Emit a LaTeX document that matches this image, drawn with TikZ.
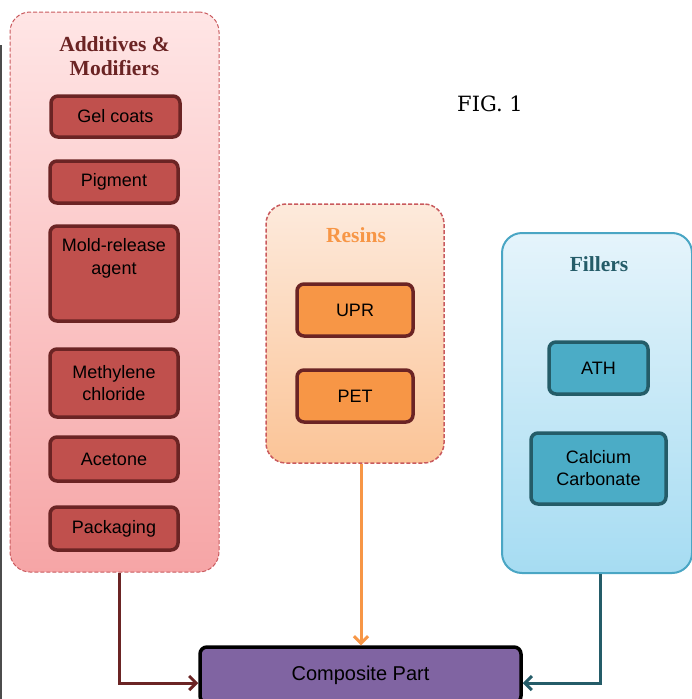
\documentclass[tikz,border=0pt]{standalone}
\usepackage{fontspec}
\setmainfont{Liberation Serif}
\setsansfont{Liberation Sans}
\newfontfamily\figfont{DejaVu Serif}
\usepackage{tikz}
\usetikzlibrary{arrows.meta}

\definecolor{addbox}{HTML}{C0504D}
\definecolor{addline}{HTML}{6B2424}
\definecolor{resbox}{HTML}{F79646}
\definecolor{filbox}{HTML}{4BACC6}
\definecolor{filline}{HTML}{245C68}
\definecolor{dashred}{HTML}{C95A5E}
\definecolor{partbox}{HTML}{8064A2}

\begin{document}
\begin{tikzpicture}[x=1pt,y=-1pt,
  group/.style={rounded corners=20pt,minimum width=#1},
  item/.style={draw=addline,line width=3.5pt,rounded corners=7pt,font=\sffamily\fontsize{18}{22}\selectfont,align=center},
  title/.style={font=\bfseries\fontsize{21.5}{24}\selectfont,align=center},
  feed/.style={line width=3pt,-{Straight Barb[length=7pt,width=14pt]}}]
\useasboundingbox (0,0) rectangle (692,699);
\draw[line width=2pt,black!70] (1,45) -- (1,699);

% containers
\node[group=209pt,minimum height=560pt,draw=dashred,dash pattern=on 4pt off 2pt,line width=1pt,
  top color=red!10!white,bottom color={rgb,255:red,246;green,165;blue,166}] (add) at (114.5,292) {};
\node[group=178pt,minimum height=259pt,draw=dashred,dash pattern=on 4pt off 2pt,line width=1.5pt,
  top color={rgb,255:red,253;green,234;blue,220},bottom color={rgb,255:red,251;green,196;blue,151}] (res) at (355,333.5) {};
\node[group=190pt,minimum height=340pt,draw={rgb,255:red,74;green,166;blue,196},line width=2pt,
  top color={rgb,255:red,229;green,244;blue,251},bottom color={rgb,255:red,166;green,220;blue,242}] (fil) at (597,403) {};

\node[title,text=addline] (addt) at (114.5,56) {Additives \&\\Modifiers};
\node[title,text=resbox] (rest) at (356,235) {Resins};
\node[title,text=filline] (filt) at (599,264) {Fillers};
\node[font=\figfont\fontsize{21}{24}\selectfont] (fig) at (490,104) {FIG. 1};

% additives
\node[item,fill=addbox,minimum width=129pt,minimum height=41pt] (gel) at (115.5,116.5) {Gel coats};
\node[item,fill=addbox,minimum width=128pt,minimum height=42pt] (pig) at (114,182) {Pigment};
\node[item,fill=addbox,minimum width=128pt,minimum height=95pt] (mold) at (114,273.5) {};
\node[font=\sffamily\fontsize{18}{23}\selectfont,align=center] (moldt) at (114,258.5) {Mold-release\\agent};
\node[item,fill=addbox,minimum width=128pt,minimum height=68pt] (meth) at (114,383) {Methylene\\chloride};
\node[item,fill=addbox,minimum width=128pt,minimum height=44pt] (ace) at (114,459) {Acetone};
\node[item,fill=addbox,minimum width=128pt,minimum height=43pt] (pack) at (114,528.5) {Packaging};

% resins
\node[item,fill=resbox,minimum width=116pt,minimum height=52pt] (upr) at (355,310) {UPR};
\node[item,fill=resbox,minimum width=116pt,minimum height=52pt] (pet) at (355,396) {PET};

% fillers
\node[item,draw=filline,fill=filbox,minimum width=99pt,minimum height=52pt] (ath) at (598.5,368) {ATH};
\node[item,draw=filline,fill=filbox,minimum width=135pt,minimum height=71pt] (cal) at (598.5,468.5) {Calcium\\Carbonate};

\node[item,draw=black,fill=partbox,minimum width=321pt,minimum height=56pt,
  font=\sffamily\fontsize{20}{23}\selectfont] (part) at (360.5,675) {Composite Part};

\draw[feed,addline] ([xshift=4.5pt]add.south) |- ([yshift=-8pt]part.west);
\draw[feed,resbox] ([xshift=6pt]res.south) -- ([xshift=0.5pt]part.north);
\draw[feed,filline] ([xshift=3pt]fil.south) |- ([yshift=-8pt]part.east);
\end{tikzpicture}
\end{document}
